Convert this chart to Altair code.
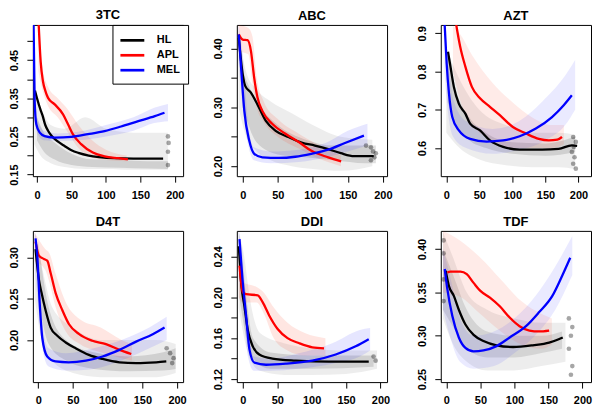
import json
import altair as alt
import pandas as pd

FONT = "Liberation Sans"
SERIES = ["HL", "APL", "MEL"]
COLORS = ["#000000", "#ff0000", "#0000ff"]
X_TICKS = [0, 50, 100, 150, 200]

# ---------------- 3TC ----------------
TC3_XDOM = [-6, 212]
TC3_YDOM = [0.146, 0.542]
TC3_YTICKS = [0.15, 0.20, 0.25, 0.30, 0.35, 0.40, 0.45, 0.50]
TC3_YLABELS = ["0.15", "0.25", "0.35", "0.45"]
TC3_HL_X = [-3, 0, 5, 8, 12, 16, 22, 30, 40, 50, 60, 75, 90, 110, 140, 183]
TC3_HL_Y = [0.37, 0.35, 0.32, 0.305, 0.28, 0.265, 0.25, 0.237, 0.225, 0.214, 0.207, 0.2, 0.196, 0.193, 0.192, 0.192]
TC3_APL_X = [2.4, 5.3, 8.7, 12, 16, 25.7, 37.8, 45, 52, 64, 81, 98, 118, 132]
TC3_APL_Y = [0.545, 0.446, 0.394, 0.37, 0.351, 0.334, 0.308, 0.282, 0.256, 0.23, 0.208, 0.198, 0.193, 0.19]
TC3_MEL_X = [-5, -3.4, -1, 4, 11, 26, 50, 74, 98, 122, 147, 171, 185]
TC3_MEL_Y = [0.545, 0.342, 0.282, 0.26, 0.251, 0.247, 0.249, 0.256, 0.264, 0.276, 0.29, 0.303, 0.312]
TC3_HLB_X = [-4, 5, 20, 40, 70, 100, 140, 190]
TC3_HLB_LO = [0.23, 0.2, 0.18, 0.17, 0.165, 0.165, 0.163, 0.163]
TC3_HLB_HI = [0.38, 0.33, 0.28, 0.27, 0.3, 0.27, 0.26, 0.26]
TC3_HLD_X = [0, 10, 25, 50, 80, 120, 160, 190]
TC3_HLD_LO = [0.24, 0.21, 0.19, 0.175, 0.17, 0.168, 0.166, 0.165]
TC3_HLD_HI = [0.3, 0.26, 0.235, 0.205, 0.19, 0.188, 0.185, 0.185]
TC3_APLB_X = [2, 8, 16, 30, 45, 60, 80, 100, 130]
TC3_APLB_LO = [0.42, 0.37, 0.33, 0.3, 0.26, 0.22, 0.195, 0.188, 0.185]
TC3_APLB_HI = [0.545, 0.43, 0.38, 0.35, 0.32, 0.28, 0.24, 0.215, 0.2]
TC3_MELB_X = [-5, 0, 10, 30, 60, 100, 140, 170, 190]
TC3_MELB_LO = [0.3, 0.26, 0.24, 0.238, 0.24, 0.25, 0.265, 0.285, 0.29]
TC3_MELB_HI = [0.545, 0.3, 0.265, 0.258, 0.262, 0.28, 0.3, 0.325, 0.335]
TC3_DARK_X = [190, 191, 190, 190]
TC3_DARK_Y = [0.25, 0.233, 0.21, 0.175]

# ---------------- ABC ----------------
ABC_XDOM = [-8.4, 206]
ABC_YDOM = [0.183, 0.44]
ABC_YTICKS = [0.20, 0.25, 0.30, 0.35, 0.40]
ABC_YLABELS = ["0.20", "0.30", "0.40"]
ABC_HL_X = [-5.6, 0, 3.7, 11.7, 21, 33, 47, 66, 84, 103, 122, 140, 159, 187]
ABC_HL_Y = [0.418, 0.356, 0.336, 0.325, 0.305, 0.277, 0.26, 0.249, 0.24, 0.235, 0.229, 0.222, 0.217, 0.217]
ABC_APL_X = [-5.6, 0, 7, 11.7, 16.4, 21, 28, 42, 61, 80, 98, 122, 140.5]
ABC_APL_Y = [0.424, 0.415, 0.414, 0.396, 0.35, 0.317, 0.294, 0.272, 0.255, 0.241, 0.226, 0.215, 0.208]
ABC_MEL_X = [-5.6, -2.3, 2.3, 9.4, 16.4, 28, 51.5, 75, 98, 122, 145, 173]
ABC_MEL_Y = [0.424, 0.367, 0.294, 0.243, 0.221, 0.215, 0.214, 0.216, 0.221, 0.228, 0.239, 0.252]
ABC_HLB_X = [-6, 5, 20, 40, 70, 100, 140, 185]
ABC_HLB_LO = [0.3, 0.25, 0.225, 0.21, 0.2, 0.195, 0.192, 0.2]
ABC_HLB_HI = [0.43, 0.36, 0.33, 0.31, 0.29, 0.27, 0.25, 0.245]
ABC_HLD_X = [0, 20, 50, 90, 130, 175, 190]
ABC_HLD_LO = [0.3, 0.24, 0.22, 0.215, 0.21, 0.205, 0.205]
ABC_HLD_HI = [0.36, 0.31, 0.27, 0.245, 0.235, 0.235, 0.235]
ABC_APLB_X = [-6, 8, 14, 20, 30, 50, 80, 110, 140]
ABC_APLB_LO = [0.395, 0.39, 0.34, 0.3, 0.275, 0.25, 0.23, 0.212, 0.2]
ABC_APLB_HI = [0.44, 0.435, 0.42, 0.35, 0.31, 0.28, 0.255, 0.235, 0.218]
ABC_MELB_X = [-6, 0, 8, 16, 40, 80, 120, 150, 178]
ABC_MELB_LO = [0.38, 0.3, 0.235, 0.21, 0.205, 0.207, 0.215, 0.225, 0.235]
ABC_MELB_HI = [0.44, 0.39, 0.27, 0.232, 0.225, 0.228, 0.24, 0.26, 0.272]
ABC_DARK_X = [176, 183, 186, 188, 183, 190]
ABC_DARK_Y = [0.235, 0.232, 0.225, 0.215, 0.21, 0.222]

# ---------------- AZT ----------------
AZT_XDOM = [-8.4, 219]
AZT_YDOM = [0.5265, 0.922]
AZT_YTICKS = [0.6, 0.7, 0.8, 0.9]
AZT_YLABELS = ["0.6", "0.7", "0.8", "0.9"]
AZT_HL_X = [2.5, 5.5, 11.4, 18.9, 28.8, 36, 51, 66, 86, 111, 145, 170, 190, 198]
AZT_HL_Y = [0.852, 0.821, 0.76, 0.716, 0.69, 0.664, 0.646, 0.62, 0.603, 0.596, 0.596, 0.598, 0.607, 0.606]
AZT_APL_X = [15, 21, 28.8, 38.7, 51, 66, 81, 100.7, 120.6, 140, 155, 168, 175]
AZT_APL_Y = [0.922, 0.865, 0.813, 0.76, 0.73, 0.708, 0.686, 0.655, 0.638, 0.624, 0.62, 0.622, 0.629]
AZT_MEL_X = [-2.5, 0.5, 4, 9, 19, 36, 61, 86, 111, 135.5, 160, 177.7, 190]
AZT_MEL_Y = [0.922, 0.821, 0.743, 0.681, 0.646, 0.624, 0.617, 0.62, 0.631, 0.651, 0.681, 0.712, 0.738]
AZT_HLB_X = [0, 20, 50, 90, 130, 170, 195]
AZT_HLB_LO = [0.64, 0.6, 0.57, 0.555, 0.55, 0.55, 0.545]
AZT_HLB_HI = [0.86, 0.78, 0.7, 0.66, 0.64, 0.64, 0.635]
AZT_HLD_X = [2, 15, 35, 60, 100, 150, 195]
AZT_HLD_LO = [0.72, 0.66, 0.62, 0.6, 0.585, 0.58, 0.59]
AZT_HLD_HI = [0.85, 0.75, 0.68, 0.64, 0.615, 0.612, 0.63]
AZT_APLB_X = [10, 20, 40, 70, 100, 130, 160, 178]
AZT_APLB_LO = [0.8, 0.73, 0.66, 0.62, 0.6, 0.6, 0.6, 0.61]
AZT_APLB_HI = [0.92, 0.9, 0.84, 0.77, 0.72, 0.68, 0.66, 0.66]
AZT_MELB_X = [-3, 2, 10, 30, 70, 110, 150, 180, 195]
AZT_MELB_LO = [0.8, 0.7, 0.63, 0.6, 0.585, 0.595, 0.62, 0.66, 0.7]
AZT_MELB_HI = [0.922, 0.84, 0.73, 0.67, 0.65, 0.67, 0.73, 0.79, 0.83]
AZT_DARK_X = [192, 196, 193, 190, 194, 192, 196]
AZT_DARK_Y = [0.629, 0.616, 0.603, 0.59, 0.576, 0.559, 0.546]

# ---------------- D4T ----------------
D4T_XDOM = [-7.7, 208.7]
D4T_YDOM = [0.149, 0.332]
D4T_YTICKS = [0.20, 0.25, 0.30]
D4T_YLABELS = ["0.20", "0.25", "0.30"]
D4T_HL_X = [-3.9, 1, 4.8, 10.6, 17.9, 27.5, 39.6, 54, 73, 92.7, 117, 141, 170, 184.5]
D4T_HL_Y = [0.31, 0.273, 0.257, 0.236, 0.215, 0.205, 0.197, 0.19, 0.182, 0.177, 0.173, 0.172, 0.173, 0.174]
D4T_APL_X = [-3.9, 1, 8.2, 13, 17.9, 25, 34.8, 44.4, 59, 78, 97.6, 117, 134]
D4T_APL_Y = [0.319, 0.302, 0.298, 0.296, 0.281, 0.257, 0.236, 0.219, 0.207, 0.199, 0.195, 0.188, 0.183]
D4T_MEL_X = [-3.9, -1.4, 1.9, 5.8, 13, 25, 44, 68.6, 92.7, 117, 141, 165, 182]
D4T_MEL_Y = [0.323, 0.302, 0.248, 0.203, 0.18, 0.174, 0.173, 0.175, 0.18, 0.188, 0.198, 0.207, 0.215]
D4T_HLB_X = [-5, 5, 20, 50, 90, 130, 170, 198]
D4T_HLB_LO = [0.25, 0.2, 0.175, 0.16, 0.155, 0.155, 0.155, 0.16]
D4T_HLB_HI = [0.33, 0.29, 0.24, 0.215, 0.2, 0.2, 0.2, 0.195]
D4T_HLD_X = [0, 15, 40, 80, 130, 180, 198]
D4T_HLD_LO = [0.25, 0.195, 0.175, 0.165, 0.162, 0.163, 0.165]
D4T_HLD_HI = [0.32, 0.24, 0.2, 0.185, 0.18, 0.185, 0.19]
D4T_APLB_X = [-5, 10, 16, 25, 40, 60, 90, 120, 135]
D4T_APLB_LO = [0.295, 0.285, 0.27, 0.24, 0.21, 0.195, 0.185, 0.178, 0.175]
D4T_APLB_HI = [0.33, 0.31, 0.305, 0.28, 0.245, 0.225, 0.215, 0.2, 0.195]
D4T_MELB_X = [-5, 0, 6, 15, 40, 80, 120, 160, 185]
D4T_MELB_LO = [0.29, 0.24, 0.19, 0.168, 0.163, 0.165, 0.175, 0.19, 0.2]
D4T_MELB_HI = [0.33, 0.31, 0.22, 0.19, 0.184, 0.19, 0.2, 0.215, 0.228]
D4T_DARK_X = [185, 190, 195, 193]
D4T_DARK_Y = [0.19, 0.184, 0.178, 0.172]

# ---------------- DDI ----------------
DDI_XDOM = [-8.7, 209.6]
DDI_YDOM = [0.117, 0.265]
DDI_YTICKS = [0.12, 0.14, 0.16, 0.18, 0.20, 0.22, 0.24]
DDI_YLABELS = ["0.12", "0.16", "0.20", "0.24"]
DDI_HL_X = [-5.8, -2.4, 2.4, 7.2, 14.5, 24, 43, 77, 125, 183]
DDI_HL_Y = [0.25, 0.214, 0.191, 0.168, 0.152, 0.144, 0.14, 0.138, 0.137, 0.137]
DDI_APL_X = [-4.8, 0, 4.8, 21.7, 29, 38.5, 50.6, 65, 82, 101, 118]
DDI_APL_Y = [0.231, 0.205, 0.203, 0.202, 0.195, 0.182, 0.169, 0.16, 0.155, 0.151, 0.15]
DDI_MEL_X = [-4.8, 0, 4.8, 9.6, 16.9, 33.7, 62.6, 101, 135, 164, 183]
DDI_MEL_Y = [0.257, 0.214, 0.182, 0.149, 0.136, 0.134, 0.135, 0.138, 0.144, 0.152, 0.159]
DDI_HLB_X = [-6, 2, 10, 25, 60, 100, 150, 195]
DDI_HLB_LO = [0.19, 0.16, 0.14, 0.128, 0.124, 0.124, 0.125, 0.13]
DDI_HLB_HI = [0.265, 0.24, 0.2, 0.165, 0.155, 0.15, 0.148, 0.148]
DDI_HLD_X = [-5, 5, 15, 40, 100, 190]
DDI_HLD_LO = [0.2, 0.16, 0.14, 0.13, 0.13, 0.132]
DDI_HLD_HI = [0.26, 0.2, 0.16, 0.146, 0.143, 0.143]
DDI_APLB_X = [-6, 0, 20, 30, 45, 65, 90, 120]
DDI_APLB_LO = [0.2, 0.195, 0.195, 0.185, 0.16, 0.148, 0.143, 0.143]
DDI_APLB_HI = [0.24, 0.215, 0.21, 0.205, 0.19, 0.175, 0.165, 0.16]
DDI_MELB_X = [-6, 0, 8, 16, 40, 80, 130, 170, 185]
DDI_MELB_LO = [0.22, 0.19, 0.14, 0.128, 0.128, 0.13, 0.135, 0.142, 0.148]
DDI_MELB_HI = [0.265, 0.24, 0.17, 0.142, 0.14, 0.145, 0.155, 0.168, 0.17]
DDI_DARK_X = [190, 193]
DDI_DARK_Y = [0.142, 0.138]

# ---------------- TDF ----------------
TDF_XDOM = [-8.2, 212.5]
TDF_YDOM = [0.2465, 0.421]
TDF_YTICKS = [0.25, 0.30, 0.35, 0.40]
TDF_YLABELS = ["0.25", "0.30", "0.35", "0.40"]
TDF_HL_X = [-1, 3.9, 11, 18.3, 28, 40, 54.5, 73.7, 98, 127, 151, 165, 171]
TDF_HL_Y = [0.375, 0.357, 0.346, 0.33, 0.313, 0.301, 0.294, 0.289, 0.287, 0.289, 0.292, 0.296, 0.298]
TDF_APL_X = [1.4, 6, 20.7, 30, 40, 49.6, 64, 78.5, 93, 107.5, 122, 136, 151]
TDF_APL_Y = [0.373, 0.374, 0.374, 0.371, 0.361, 0.352, 0.344, 0.334, 0.321, 0.311, 0.306, 0.305, 0.306]
TDF_MEL_X = [-2.4, 1.4, 8.7, 18.3, 28, 40, 54.5, 73.7, 93, 117, 136, 155.7, 170, 182]
TDF_MEL_Y = [0.377, 0.354, 0.323, 0.298, 0.286, 0.282, 0.283, 0.288, 0.298, 0.311, 0.327, 0.346, 0.369, 0.39]
TDF_HLB_X = [-5, 10, 30, 60, 100, 140, 175]
TDF_HLB_LO = [0.32, 0.29, 0.27, 0.26, 0.26, 0.265, 0.27]
TDF_HLB_HI = [0.42, 0.39, 0.35, 0.33, 0.32, 0.315, 0.315]
TDF_HLD_X = [-5, 10, 30, 60, 100, 140, 170]
TDF_HLD_LO = [0.33, 0.31, 0.285, 0.275, 0.275, 0.28, 0.285]
TDF_HLD_HI = [0.4, 0.37, 0.33, 0.305, 0.3, 0.3, 0.305]
TDF_APLB_X = [-5, 20, 50, 80, 110, 140, 155]
TDF_APLB_LO = [0.35, 0.345, 0.325, 0.305, 0.29, 0.285, 0.29]
TDF_APLB_HI = [0.421, 0.41, 0.39, 0.365, 0.34, 0.325, 0.32]
TDF_MELB_X = [-5, 5, 20, 40, 70, 100, 130, 160, 185]
TDF_MELB_LO = [0.33, 0.3, 0.27, 0.262, 0.265, 0.28, 0.3, 0.33, 0.37]
TDF_MELB_HI = [0.4, 0.37, 0.32, 0.3, 0.305, 0.32, 0.345, 0.38, 0.415]
TDF_DARK_X = [-4, -4, -4, -4, 180, 185, 183, 180, 185, 183]
TDF_DARK_Y = [0.41, 0.395, 0.365, 0.34, 0.32, 0.31, 0.3, 0.285, 0.265, 0.255]

PANEL_W = 151
PANEL_H = 152


def panel(title, xdom, ydom, yticks, ylabels, fmt, lines, bands, dark, legend=False):
    xs = alt.Scale(domain=xdom, nice=False, zero=False)
    ys = alt.Scale(domain=ydom, nice=False, zero=False)
    xaxis = alt.Axis(values=X_TICKS, format="d", title=None)
    lab = json.dumps(ylabels).replace('"', "'")
    yaxis = alt.Axis(
        values=yticks, title=None,
        labelExpr="indexof(%s, format(datum.value, '%s')) >= 0 ? format(datum.value, '%s') : ''" % (lab, fmt, fmt),
        labelAngle=270, labelAlign="center", labelBaseline="bottom",
    )
    layers = []
    for bx, lo, hi, color, op in bands:
        df = pd.DataFrame({"x": bx, "lo": lo, "hi": hi})
        layers.append(
            alt.Chart(df).mark_area(color=color, opacity=op, clip=True, interpolate="monotone").encode(
                x=alt.X("x:Q", scale=xs, axis=xaxis),
                y=alt.Y("lo:Q", scale=ys, axis=yaxis),
                y2="hi:Q",
            )
        )
    dfd = pd.DataFrame({"x": dark[0], "y": dark[1]})
    layers.append(
        alt.Chart(dfd).mark_circle(color="#000000", opacity=0.35, size=22, clip=True).encode(
            x=alt.X("x:Q", scale=xs, axis=xaxis),
            y=alt.Y("y:Q", scale=ys, axis=yaxis),
        )
    )
    rows = []
    for s, (lx, ly) in zip(SERIES, lines):
        for i, (a, b) in enumerate(zip(lx, ly)):
            rows.append({"x": a, "y": b, "s": s, "o": i})
    dfl = pd.DataFrame(rows)
    if legend:
        leg = alt.Legend(
            title=None, orient="none", legendX=80, legendY=0,
            strokeColor="#000000", fillColor="#ffffff", padding=8,
            symbolType="M-2,0H2", symbolSize=144, symbolStrokeWidth=2.7,
            symbolOffset=4.5, labelOffset=17,
            labelFont=FONT, labelFontSize=11, labelFontWeight="bold", labelColor="#000000",
            rowPadding=2, cornerRadius=0,
        )
    else:
        leg = None
    layers.append(
        alt.Chart(dfl).mark_line(strokeWidth=2.3, clip=True, interpolate="monotone").encode(
            x=alt.X("x:Q", scale=xs, axis=xaxis),
            y=alt.Y("y:Q", scale=ys, axis=yaxis),
            color=alt.Color("s:N", scale=alt.Scale(domain=SERIES, range=COLORS), legend=leg),
            order="o:Q",
        )
    )
    return alt.layer(*layers).properties(
        width=PANEL_W, height=PANEL_H,
        title=alt.TitleParams(title, font=FONT, fontSize=13, fontWeight="bold", color="#000000",
                              anchor="middle", offset=2),
    )


GRAY = "#000000"
RED = "#ff3b1f"
BLUE = "#3030ff"

p1 = panel("3TC", TC3_XDOM, TC3_YDOM, TC3_YTICKS, TC3_YLABELS, ".2f",
           [(TC3_HL_X, TC3_HL_Y), (TC3_APL_X, TC3_APL_Y), (TC3_MEL_X, TC3_MEL_Y)],
           [(TC3_HLB_X, TC3_HLB_LO, TC3_HLB_HI, GRAY, 0.07), (TC3_HLD_X, TC3_HLD_LO, TC3_HLD_HI, GRAY, 0.12),
            (TC3_APLB_X, TC3_APLB_LO, TC3_APLB_HI, RED, 0.13), (TC3_MELB_X, TC3_MELB_LO, TC3_MELB_HI, BLUE, 0.12)],
           (TC3_DARK_X, TC3_DARK_Y), legend=True)
p2 = panel("ABC", ABC_XDOM, ABC_YDOM, ABC_YTICKS, ABC_YLABELS, ".2f",
           [(ABC_HL_X, ABC_HL_Y), (ABC_APL_X, ABC_APL_Y), (ABC_MEL_X, ABC_MEL_Y)],
           [(ABC_HLB_X, ABC_HLB_LO, ABC_HLB_HI, GRAY, 0.07), (ABC_HLD_X, ABC_HLD_LO, ABC_HLD_HI, GRAY, 0.12),
            (ABC_APLB_X, ABC_APLB_LO, ABC_APLB_HI, RED, 0.13), (ABC_MELB_X, ABC_MELB_LO, ABC_MELB_HI, BLUE, 0.12)],
           (ABC_DARK_X, ABC_DARK_Y))
p3 = panel("AZT", AZT_XDOM, AZT_YDOM, AZT_YTICKS, AZT_YLABELS, ".1f",
           [(AZT_HL_X, AZT_HL_Y), (AZT_APL_X, AZT_APL_Y), (AZT_MEL_X, AZT_MEL_Y)],
           [(AZT_HLB_X, AZT_HLB_LO, AZT_HLB_HI, GRAY, 0.07), (AZT_HLD_X, AZT_HLD_LO, AZT_HLD_HI, GRAY, 0.12),
            (AZT_APLB_X, AZT_APLB_LO, AZT_APLB_HI, RED, 0.1), (AZT_MELB_X, AZT_MELB_LO, AZT_MELB_HI, BLUE, 0.1)],
           (AZT_DARK_X, AZT_DARK_Y))
p4 = panel("D4T", D4T_XDOM, D4T_YDOM, D4T_YTICKS, D4T_YLABELS, ".2f",
           [(D4T_HL_X, D4T_HL_Y), (D4T_APL_X, D4T_APL_Y), (D4T_MEL_X, D4T_MEL_Y)],
           [(D4T_HLB_X, D4T_HLB_LO, D4T_HLB_HI, GRAY, 0.07), (D4T_HLD_X, D4T_HLD_LO, D4T_HLD_HI, GRAY, 0.12),
            (D4T_APLB_X, D4T_APLB_LO, D4T_APLB_HI, RED, 0.13), (D4T_MELB_X, D4T_MELB_LO, D4T_MELB_HI, BLUE, 0.12)],
           (D4T_DARK_X, D4T_DARK_Y))
p5 = panel("DDI", DDI_XDOM, DDI_YDOM, DDI_YTICKS, DDI_YLABELS, ".2f",
           [(DDI_HL_X, DDI_HL_Y), (DDI_APL_X, DDI_APL_Y), (DDI_MEL_X, DDI_MEL_Y)],
           [(DDI_HLB_X, DDI_HLB_LO, DDI_HLB_HI, GRAY, 0.07), (DDI_HLD_X, DDI_HLD_LO, DDI_HLD_HI, GRAY, 0.12),
            (DDI_APLB_X, DDI_APLB_LO, DDI_APLB_HI, RED, 0.13), (DDI_MELB_X, DDI_MELB_LO, DDI_MELB_HI, BLUE, 0.12)],
           (DDI_DARK_X, DDI_DARK_Y))
p6 = panel("TDF", TDF_XDOM, TDF_YDOM, TDF_YTICKS, TDF_YLABELS, ".2f",
           [(TDF_HL_X, TDF_HL_Y), (TDF_APL_X, TDF_APL_Y), (TDF_MEL_X, TDF_MEL_Y)],
           [(TDF_HLB_X, TDF_HLB_LO, TDF_HLB_HI, GRAY, 0.07), (TDF_HLD_X, TDF_HLD_LO, TDF_HLD_HI, GRAY, 0.1),
            (TDF_APLB_X, TDF_APLB_LO, TDF_APLB_HI, RED, 0.1), (TDF_MELB_X, TDF_MELB_LO, TDF_MELB_HI, BLUE, 0.1)],
           (TDF_DARK_X, TDF_DARK_Y))

chart = alt.concat(p1, p2, p3, p4, p5, p6, columns=3, spacing={"row": 55, "column": 54}, bounds="flush")
chart = chart.resolve_scale(color="independent").properties(
    padding={"left": 0, "top": 0, "right": 0, "bottom": 0}, background="#ffffff"
).configure_view(stroke="#000000", strokeWidth=1).configure_axis(
    domain=False, grid=False, ticks=True, tickColor="#000000", tickSize=6, tickWidth=1,
    labelFont=FONT, labelFontSize=11, labelFontWeight="bold", labelColor="#000000", labelPadding=7,
)
chart.save("out.html", embed_options={"renderer": "svg", "actions": False})
